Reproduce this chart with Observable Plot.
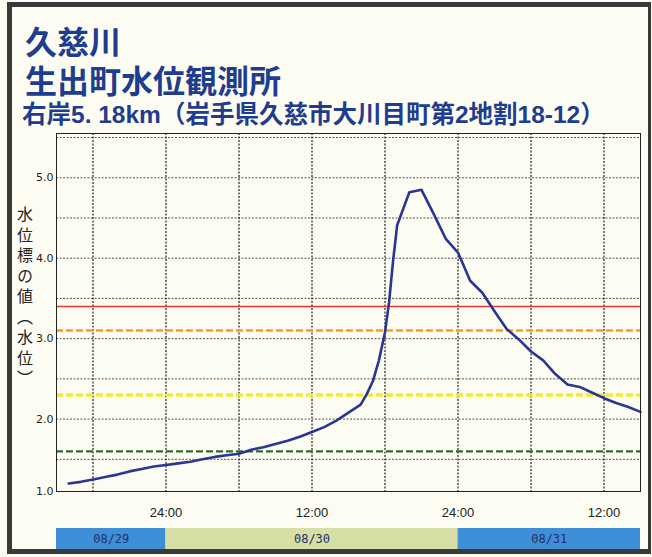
<!DOCTYPE html>
<html><head><meta charset="utf-8">
<script src="https://cdn.jsdelivr.net/npm/d3@7"></script>
<script src="https://cdn.jsdelivr.net/npm/@observablehq/plot@0.6"></script>
<style>
html,body{margin:0;padding:0;}
body{background:#fdfcf3;width:652px;height:557px;position:relative;overflow:hidden;font-family:"Noto Sans CJK JP",sans-serif;}
#frame{position:absolute;left:7px;top:2px;width:636px;height:542px;border:5px solid #3a3a3a;border-right-width:3px;}
.t{position:absolute;left:25px;color:#1f3d8e;font-weight:700;line-height:1;white-space:nowrap;font-family:"Liberation Sans","Noto Sans CJK JP",sans-serif;}
#t1{top:27px;font-size:32px;}
#t2{top:66px;font-size:32px;}
#t3{top:103px;font-size:24.5px;left:22px;}
#ylab{position:absolute;left:17px;top:206px;writing-mode:vertical-rl;font-size:16px;letter-spacing:4.5px;color:#222;line-height:1;}
#main{position:absolute;left:0;top:0;}
#days{position:absolute;left:0;top:528px;}
[aria-label="y-axis tick label"] text{font-family:"DejaVu Sans",sans-serif;font-size:11px;fill:#222;}
[aria-label="x-axis tick label"] text{font-family:"Liberation Sans",sans-serif;font-size:13px;fill:#222;}
</style></head>
<body>
<div id="frame"></div>
<div class="t" id="t1">久慈川</div>
<div class="t" id="t2">生出町水位観測所</div>
<div class="t" id="t3">右岸5. 18km（岩手県久慈市大川目町第2地割18-12）</div>
<div id="main"></div>
<div id="days"></div>
<div id="ylab">水位標の値（水位）</div>
<script>
// ---- data ----
const obsTimes = [
 "2016-08-29T16:00","2016-08-29T17:00","2016-08-29T18:00","2016-08-29T19:00","2016-08-29T20:00",
 "2016-08-29T21:00","2016-08-29T22:00","2016-08-29T23:00","2016-08-30T00:00","2016-08-30T01:00",
 "2016-08-30T02:00","2016-08-30T03:00","2016-08-30T04:00","2016-08-30T05:00","2016-08-30T06:00",
 "2016-08-30T07:00","2016-08-30T08:00","2016-08-30T09:00","2016-08-30T10:00","2016-08-30T11:00",
 "2016-08-30T12:00","2016-08-30T13:00","2016-08-30T14:00","2016-08-30T15:00","2016-08-30T16:00",
 "2016-08-30T16:30","2016-08-30T17:00","2016-08-30T17:30","2016-08-30T18:00","2016-08-30T18:20",
 "2016-08-30T18:40","2016-08-30T19:00","2016-08-30T20:00","2016-08-30T21:00","2016-08-30T22:00",
 "2016-08-30T23:00","2016-08-31T00:00","2016-08-31T01:00","2016-08-31T02:00","2016-08-31T03:00",
 "2016-08-31T04:00","2016-08-31T05:00","2016-08-31T06:00","2016-08-31T07:00","2016-08-31T08:00",
 "2016-08-31T09:00","2016-08-31T10:00","2016-08-31T11:00","2016-08-31T12:00","2016-08-31T13:00",
 "2016-08-31T14:00","2016-08-31T15:00"
];
const waterLevel = [
 1.20,1.22,1.25,1.28,1.31,
 1.35,1.38,1.41,1.43,1.45,
 1.47,1.50,1.53,1.55,1.57,
 1.62,1.65,1.69,1.73,1.78,
 1.84,1.90,1.98,2.08,2.18,
 2.31,2.47,2.73,3.08,3.45,
 3.97,4.41,4.82,4.85,4.55,
 4.24,4.07,3.72,3.57,3.34,
 3.12,2.99,2.84,2.73,2.56,
 2.43,2.40,2.33,2.26,2.20,
 2.15,2.09
];
const warnLevels = [3.40, 3.10, 2.30, 1.60];
const yTickValues = [1.0, 2.0, 3.0, 4.0, 5.0];
const yGridValues = [1.5, 2.0, 2.5, 3.0, 3.5, 4.0, 4.5, 5.0, 5.5];
const xGridTimes = ["2016-08-29T18:00","2016-08-30T00:00","2016-08-30T06:00","2016-08-30T12:00",
 "2016-08-30T18:00","2016-08-31T00:00","2016-08-31T06:00","2016-08-31T12:00"];
const xTickTimes = ["2016-08-30T00:00","2016-08-30T12:00","2016-08-31T00:00","2016-08-31T12:00"];
const dayLabels = ["08/29","08/30","08/31"];
const dayStarts = ["2016-08-29T15:00","2016-08-30T00:00","2016-08-31T00:00"];
const dayEnds = ["2016-08-30T00:00","2016-08-31T00:00","2016-08-31T15:00"];
const timeDomain = ["2016-08-29T15:00","2016-08-31T15:00"];

// ---- styles ----
const warnStyles = [
 {stroke:"#e6392d", strokeWidth:1.6, dash:null},
 {stroke:"#f0a02a", strokeWidth:2.5, dash:"7,3"},
 {stroke:"#f2e83a", strokeWidth:3.5, dash:"7,3"},
 {stroke:"#2d6a2d", strokeWidth:2.2, dash:"7,3"}
];
const dayFill = {"08/29":"#3e8fd8","08/30":"#d7dfa6","08/31":"#3e8fd8"};

const T = s => new Date(s + ":00Z");
const series = obsTimes.map((t,i) => ({t: T(t), v: waterLevel[i]}));
const xDom = timeDomain.map(T);

const hourFmt = d => { const h = d.getUTCHours(); return h === 0 ? "24:00" : String(h).padStart(2,"0") + ":00"; };

const main = Plot.plot({
  width: 652, height: 521,
  marginTop: 133, marginBottom: 30, marginLeft: 56, marginRight: 12,
  style: {background: "transparent", overflow: "visible"},
  x: {type: "utc", domain: xDom},
  y: {domain: [1.1, 5.55], clamp: true},
  marks: [
    Plot.gridY(yGridValues, {stroke: "#555", strokeOpacity: 1, strokeWidth: 1, strokeDasharray: "2,1.5"}),
    Plot.gridX(xGridTimes.map(T), {stroke: "#222", strokeOpacity: 1, strokeWidth: 1.2, strokeDasharray: "2,1.5"}),
    ...warnLevels.map((lv, i) => Plot.ruleY([lv], {
      stroke: warnStyles[i].stroke, strokeWidth: warnStyles[i].strokeWidth,
      strokeDasharray: warnStyles[i].dash ?? undefined, x1: xDom[0], x2: xDom[1]
    })),
    Plot.line(series, {x: "t", y: "v", stroke: "#2b3592", strokeWidth: 2.6, strokeLinejoin: "round"}),
    Plot.frame({stroke: "#222", strokeWidth: 1}),
    Plot.axisY(yTickValues, {tickSize: 0, tickPadding: 3, tickFormat: d => d.toFixed(1), label: null}),
    Plot.axisX(xTickTimes.map(T), {tickSize: 0, tickPadding: 16, tickFormat: hourFmt, label: null})
  ]
});
document.getElementById("main").appendChild(main);

const dayData = dayLabels.map((l, i) => ({label: l, start: T(dayStarts[i]), end: T(dayEnds[i])}));
const days = Plot.plot({
  width: 652, height: 21,
  marginTop: 0, marginBottom: 0, marginLeft: 56, marginRight: 12,
  style: {background: "transparent"},
  x: {type: "utc", domain: xDom, axis: null},
  color: {type: "identity"},
  marks: [
    Plot.rect(dayData, {x1: "start", x2: "end", fill: d => dayFill[d.label]}),
    Plot.text(dayData, {x: d => new Date((+d.start + +d.end) / 2), text: "label", fill: "#22306a",
      fontFamily: "DejaVu Sans Mono", fontSize: 12, frameAnchor: "middle"})
  ]
});
document.getElementById("days").appendChild(days);
</script>
</body></html>
